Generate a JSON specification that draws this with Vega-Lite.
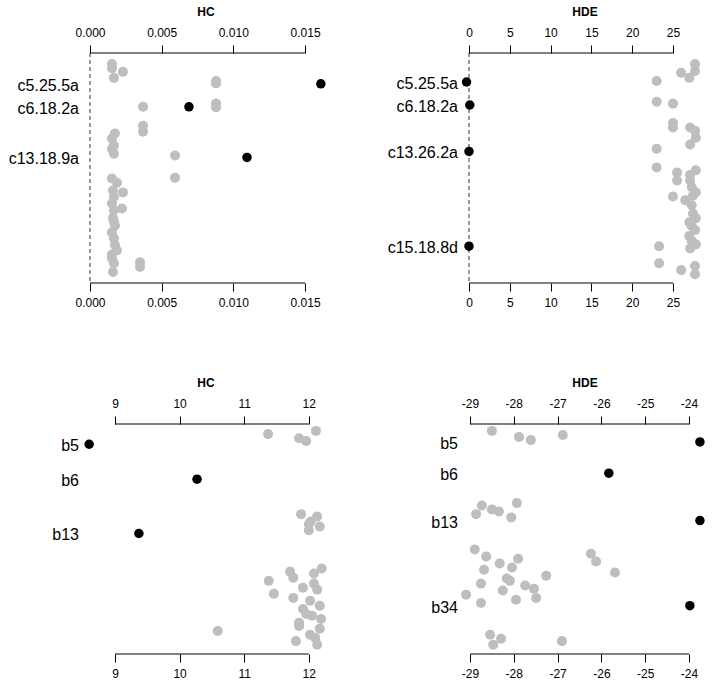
{
  "$schema": "https://vega.github.io/schema/vega-lite/v6.json",
  "background": "white",
  "padding": {"left": 8, "top": 5, "right": 5, "bottom": 5},
  "config": {
    "view": {"stroke": null},
    "axis": {"domain": false, "grid": false, "tickColor": "black", "tickSize": 8, "tickWidth": 1,
      "labelFont": "Liberation Sans", "labelFontSize": 12, "labelColor": "black",
      "titleFont": "Liberation Sans", "titleFontSize": 12, "titleFontWeight": "bold", "titleColor": "black",
      "labelFlush": false, "labelOverlap": false},
    "axisTop": {"labelPadding": 6, "titlePadding": 8},
    "axisBottom": {"labelPadding": 6}
  },
  "datasets": {
    "tl": [
      {"v":0.00153,"p":2.4,"k":0},{"v":0.00153,"p":3.3,"k":0},{"v":0.0023,"p":4.1,"k":0},{"v":0.00167,"p":5.4,"k":0},
      {"v":0.00879,"p":6.1,"k":0},{"v":0.00879,"p":6.6,"k":0},{"v":0.0037,"p":11.7,"k":0},{"v":0.00879,"p":11.0,"k":0},
      {"v":0.00879,"p":11.8,"k":0},{"v":0.0037,"p":15.8,"k":0},{"v":0.0037,"p":17.1,"k":0},{"v":0.00174,"p":17.5,"k":0},
      {"v":0.00153,"p":18.6,"k":0},{"v":0.00167,"p":20.1,"k":0},{"v":0.00153,"p":20.8,"k":0},{"v":0.00167,"p":21.9,"k":0},
      {"v":0.00593,"p":22.3,"k":0},{"v":0.00593,"p":27.1,"k":0},{"v":0.00153,"p":27.3,"k":0},{"v":0.00188,"p":28.2,"k":0},
      {"v":0.0016,"p":29.9,"k":0},{"v":0.0023,"p":30.3,"k":0},{"v":0.00167,"p":31.3,"k":0},{"v":0.00153,"p":32.7,"k":0},
      {"v":0.00223,"p":33.8,"k":0},{"v":0.00167,"p":34.2,"k":0},{"v":0.0016,"p":35.9,"k":0},{"v":0.00167,"p":36.6,"k":0},
      {"v":0.00174,"p":37.5,"k":0},{"v":0.00153,"p":39.0,"k":0},{"v":0.00167,"p":40.3,"k":0},{"v":0.00174,"p":41.8,"k":0},
      {"v":0.00188,"p":42.9,"k":0},{"v":0.00153,"p":43.8,"k":0},{"v":0.00153,"p":44.6,"k":0},{"v":0.00349,"p":45.5,"k":0},
      {"v":0.00349,"p":46.5,"k":0},{"v":0.00167,"p":45.7,"k":0},{"v":0.0016,"p":47.6,"k":0},
      {"v":0.0161,"p":6.7,"k":1,"lab":"c5.25.5a"},{"v":0.0069,"p":11.7,"k":1,"lab":"c6.18.2a"},{"v":0.01095,"p":22.7,"k":1,"lab":"c13.18.9a"}
    ],
    "tr": [
      {"v":27.7,"p":2.4,"k":0},{"v":27.7,"p":3.9,"k":0},{"v":26.0,"p":4.3,"k":0},{"v":27.0,"p":5.4,"k":0},{"v":23.0,"p":6.1,"k":0},
      {"v":23.0,"p":10.6,"k":0},{"v":25.0,"p":11.0,"k":0},{"v":25.0,"p":15.2,"k":0},{"v":25.0,"p":16.2,"k":0},{"v":27.1,"p":16.2,"k":0},
      {"v":27.7,"p":16.9,"k":0},{"v":27.8,"p":18.4,"k":0},{"v":27.1,"p":19.9,"k":0},{"v":23.0,"p":20.8,"k":0},{"v":23.0,"p":24.9,"k":0},
      {"v":25.5,"p":26.0,"k":0},{"v":25.5,"p":27.7,"k":0},{"v":27.8,"p":25.5,"k":0},{"v":27.1,"p":26.5,"k":0},{"v":27.1,"p":27.7,"k":0},
      {"v":27.3,"p":29.2,"k":0},{"v":27.45,"p":31.0,"k":0},{"v":25.0,"p":31.2,"k":0},{"v":26.5,"p":32.0,"k":0},{"v":27.8,"p":30.3,"k":0},
      {"v":27.3,"p":33.1,"k":0},{"v":27.45,"p":34.9,"k":0},{"v":27.8,"p":35.9,"k":0},{"v":27.0,"p":36.8,"k":0},{"v":27.3,"p":37.6,"k":0},
      {"v":27.7,"p":38.5,"k":0},{"v":27.0,"p":39.8,"k":0},{"v":27.3,"p":40.9,"k":0},{"v":27.8,"p":41.6,"k":0},{"v":27.1,"p":42.5,"k":0},
      {"v":23.3,"p":42.0,"k":0},{"v":23.3,"p":45.7,"k":0},{"v":26.0,"p":47.2,"k":0},{"v":27.7,"p":46.3,"k":0},{"v":27.7,"p":48.1,"k":0},
      {"v":-0.3,"p":6.3,"k":1,"lab":"c5.25.5a"},{"v":0.1,"p":11.3,"k":1,"lab":"c6.18.2a"},{"v":0.0,"p":21.4,"k":1,"lab":"c13.26.2a"},{"v":0.0,"p":42.0,"k":1,"lab":"c15.18.8d"}
    ],
    "bl": [
      {"v":11.37,"p":2.2,"k":0},{"v":11.85,"p":3.1,"k":0},{"v":11.96,"p":3.7,"k":0},{"v":12.11,"p":1.5,"k":0},
      {"v":11.88,"p":19.6,"k":0},{"v":12.13,"p":20.1,"k":0},{"v":12.03,"p":21.2,"k":0},{"v":12.0,"p":21.8,"k":0},{"v":12.17,"p":22.3,"k":0},{"v":12.0,"p":23.1,"k":0},
      {"v":12.2,"p":31.4,"k":0},{"v":11.71,"p":32.1,"k":0},{"v":11.76,"p":33.4,"k":0},{"v":12.08,"p":32.5,"k":0},{"v":11.38,"p":34.1,"k":0},
      {"v":12.08,"p":34.7,"k":0},{"v":11.91,"p":35.6,"k":0},{"v":12.13,"p":36.0,"k":0},{"v":11.46,"p":36.9,"k":0},{"v":11.76,"p":37.8,"k":0},
      {"v":12.02,"p":38.4,"k":0},{"v":12.17,"p":39.5,"k":0},{"v":11.91,"p":40.2,"k":0},{"v":11.96,"p":41.3,"k":0},{"v":12.05,"p":41.7,"k":0},
      {"v":12.19,"p":42.4,"k":0},{"v":11.85,"p":43.2,"k":0},{"v":11.85,"p":43.9,"k":0},{"v":12.17,"p":44.5,"k":0},{"v":10.59,"p":45.0,"k":0},
      {"v":12.02,"p":45.8,"k":0},{"v":12.1,"p":46.5,"k":0},{"v":11.8,"p":47.2,"k":0},{"v":12.13,"p":48.0,"k":0},
      {"v":8.60,"p":4.4,"k":1,"lab":"b5"},{"v":10.27,"p":12.0,"k":1,"lab":"b6"},{"v":9.37,"p":23.8,"k":1,"lab":"b13"}
    ],
    "br": [
      {"v":-28.50,"p":1.5,"k":0},{"v":-27.88,"p":2.8,"k":0},{"v":-27.61,"p":3.5,"k":0},{"v":-26.88,"p":2.4,"k":0},
      {"v":-28.73,"p":17.7,"k":0},{"v":-28.50,"p":18.6,"k":0},{"v":-28.34,"p":19.0,"k":0},{"v":-27.93,"p":17.2,"k":0},{"v":-28.86,"p":19.6,"k":0},{"v":-28.06,"p":20.3,"k":0},
      {"v":-28.89,"p":27.3,"k":0},{"v":-28.63,"p":28.8,"k":0},{"v":-27.90,"p":29.3,"k":0},{"v":-28.32,"p":30.3,"k":0},{"v":-28.04,"p":31.2,"k":0},
      {"v":-28.68,"p":31.7,"k":0},{"v":-26.24,"p":28.2,"k":0},{"v":-26.12,"p":29.9,"k":0},{"v":-25.69,"p":32.3,"k":0},{"v":-27.26,"p":33.0,"k":0},
      {"v":-28.16,"p":33.6,"k":0},{"v":-28.09,"p":34.1,"k":0},{"v":-28.75,"p":34.7,"k":0},{"v":-27.74,"p":35.1,"k":0},{"v":-27.54,"p":35.8,"k":0},
      {"v":-28.25,"p":36.2,"k":0},{"v":-29.09,"p":37.1,"k":0},{"v":-27.49,"p":37.8,"k":0},{"v":-27.95,"p":38.2,"k":0},{"v":-28.75,"p":38.9,"k":0},
      {"v":-28.54,"p":45.8,"k":0},{"v":-28.29,"p":46.7,"k":0},{"v":-28.47,"p":48.0,"k":0},{"v":-26.90,"p":47.2,"k":0},
      {"v":-23.75,"p":3.9,"k":1,"lab":"b5"},{"v":-25.83,"p":10.7,"k":1,"lab":"b6"},{"v":-23.75,"p":21.0,"k":1,"lab":"b13"},{"v":-23.98,"p":39.5,"k":1,"lab":"b34"}
    ]
  },
  "columns": 2,
  "spacing": {"row": 141, "column": 140},
  "bounds": "flush",
  "concat": [
    {
      "width": 239, "height": 230,
      "data": {"name": "tl"},
      "resolve": {"axis": {"x": "independent"}},
      "layer": [
        {"data": {"values": [{}]}, "mark": {"type": "rule", "color": "black", "strokeWidth": 1},
         "encoding": {"x": {"datum": 0, "type": "quantitative", "scale": {"domain": [-0.000279, 0.01639], "nice": false, "zero": false}, "axis": null}, "x2": {"datum": 0.015},
           "y": {"datum": 0, "type": "quantitative", "scale": {"domain": [0, 50], "reverse": true, "nice": false, "zero": false}, "axis": null}}},
        {"data": {"values": [{}]}, "mark": {"type": "rule", "color": "black", "strokeWidth": 1},
         "encoding": {"x": {"datum": 0, "type": "quantitative", "axis": null}, "x2": {"datum": 0.015}, "y": {"datum": 50, "type": "quantitative", "axis": null}}},
        {"data": {"values": [{}]}, "mark": {"type": "rule", "color": "#333333", "strokeWidth": 1, "strokeDash": [4, 3]},
         "encoding": {"x": {"datum": 0, "type": "quantitative", "axis": null}, "y": {"datum": 0, "type": "quantitative", "axis": null}, "y2": {"datum": 50}}},
        {"transform": [{"filter": "datum.k == 0"}], "mark": {"type": "point", "filled": true, "color": "#BEBEBE", "opacity": 1, "size": 100},
         "encoding": {"x": {"field": "v", "type": "quantitative", "axis": {"orient": "top", "title": "HC", "values": [0, 0.005, 0.01, 0.015], "format": ".3f"}},
           "y": {"field": "p", "type": "quantitative", "axis": null}}},
        {"transform": [{"filter": "datum.k == 1"}], "mark": {"type": "point", "filled": true, "color": "black", "opacity": 1, "size": 90},
         "encoding": {"x": {"field": "v", "type": "quantitative", "axis": {"orient": "bottom", "title": null, "values": [0, 0.005, 0.01, 0.015], "format": ".3f"}},
           "y": {"field": "p", "type": "quantitative", "axis": null}}},
        {"transform": [{"filter": "datum.k == 1"}], "mark": {"type": "text", "align": "right", "baseline": "middle", "dx": -7, "dy": 2, "fontSize": 16, "font": "Liberation Sans", "color": "black"},
         "encoding": {"x": {"datum": -0.000279, "type": "quantitative", "axis": null}, "y": {"field": "p", "type": "quantitative", "axis": null}, "text": {"field": "lab"}}}
      ]
    },
    {
      "width": 239, "height": 230,
      "data": {"name": "tr"},
      "resolve": {"axis": {"x": "independent"}},
      "layer": [
        {"data": {"values": [{}]}, "mark": {"type": "rule", "color": "black", "strokeWidth": 1},
         "encoding": {"x": {"datum": 0, "type": "quantitative", "scale": {"domain": [-0.49, 28.8], "nice": false, "zero": false}, "axis": null}, "x2": {"datum": 25},
           "y": {"datum": 0, "type": "quantitative", "scale": {"domain": [0, 50], "reverse": true, "nice": false, "zero": false}, "axis": null}}},
        {"data": {"values": [{}]}, "mark": {"type": "rule", "color": "black", "strokeWidth": 1},
         "encoding": {"x": {"datum": 0, "type": "quantitative", "axis": null}, "x2": {"datum": 25}, "y": {"datum": 50, "type": "quantitative", "axis": null}}},
        {"data": {"values": [{}]}, "mark": {"type": "rule", "color": "#333333", "strokeWidth": 1, "strokeDash": [4, 3]},
         "encoding": {"x": {"datum": 0, "type": "quantitative", "axis": null}, "y": {"datum": 0, "type": "quantitative", "axis": null}, "y2": {"datum": 50}}},
        {"transform": [{"filter": "datum.k == 0"}], "mark": {"type": "point", "filled": true, "color": "#BEBEBE", "opacity": 1, "size": 100},
         "encoding": {"x": {"field": "v", "type": "quantitative", "axis": {"orient": "top", "title": "HDE", "values": [0, 5, 10, 15, 20, 25], "labelExpr": "toString(datum.value)"}},
           "y": {"field": "p", "type": "quantitative", "axis": null}}},
        {"transform": [{"filter": "datum.k == 1"}], "mark": {"type": "point", "filled": true, "color": "black", "opacity": 1, "size": 90},
         "encoding": {"x": {"field": "v", "type": "quantitative", "axis": {"orient": "bottom", "title": null, "values": [0, 5, 10, 15, 20, 25], "labelExpr": "toString(datum.value)"}},
           "y": {"field": "p", "type": "quantitative", "axis": null}}},
        {"transform": [{"filter": "datum.k == 1"}], "mark": {"type": "text", "align": "right", "baseline": "middle", "dx": -7, "dy": 2, "fontSize": 16, "font": "Liberation Sans", "color": "black"},
         "encoding": {"x": {"datum": -0.49, "type": "quantitative", "axis": null}, "y": {"field": "p", "type": "quantitative", "axis": null}, "text": {"field": "lab"}}}
      ]
    },
    {
      "width": 239, "height": 230,
      "data": {"name": "bl"},
      "resolve": {"axis": {"x": "independent"}},
      "layer": [
        {"data": {"values": [{}]}, "mark": {"type": "rule", "color": "black", "strokeWidth": 1},
         "encoding": {"x": {"datum": 9, "type": "quantitative", "scale": {"domain": [8.551, 12.251], "nice": false, "zero": false}, "axis": null}, "x2": {"datum": 12},
           "y": {"datum": 0, "type": "quantitative", "scale": {"domain": [0, 50], "reverse": true, "nice": false, "zero": false}, "axis": null}}},
        {"data": {"values": [{}]}, "mark": {"type": "rule", "color": "black", "strokeWidth": 1},
         "encoding": {"x": {"datum": 9, "type": "quantitative", "axis": null}, "x2": {"datum": 12}, "y": {"datum": 50, "type": "quantitative", "axis": null}}},
        {"transform": [{"filter": "datum.k == 0"}], "mark": {"type": "point", "filled": true, "color": "#BEBEBE", "opacity": 1, "size": 100},
         "encoding": {"x": {"field": "v", "type": "quantitative", "axis": {"orient": "top", "title": "HC", "values": [9, 10, 11, 12], "labelExpr": "toString(datum.value)"}},
           "y": {"field": "p", "type": "quantitative", "axis": null}}},
        {"transform": [{"filter": "datum.k == 1"}], "mark": {"type": "point", "filled": true, "color": "black", "opacity": 1, "size": 90},
         "encoding": {"x": {"field": "v", "type": "quantitative", "axis": {"orient": "bottom", "title": null, "values": [9, 10, 11, 12], "labelExpr": "toString(datum.value)"}},
           "y": {"field": "p", "type": "quantitative", "axis": null}}},
        {"transform": [{"filter": "datum.k == 1"}], "mark": {"type": "text", "align": "right", "baseline": "middle", "dx": -7, "dy": 2, "fontSize": 16, "font": "Liberation Sans", "color": "black"},
         "encoding": {"x": {"datum": 8.551, "type": "quantitative", "axis": null}, "y": {"field": "p", "type": "quantitative", "axis": null}, "text": {"field": "lab"}}}
      ]
    },
    {
      "width": 239, "height": 230,
      "data": {"name": "br"},
      "resolve": {"axis": {"x": "independent"}},
      "layer": [
        {"data": {"values": [{}]}, "mark": {"type": "rule", "color": "black", "strokeWidth": 1},
         "encoding": {"x": {"datum": -29, "type": "quantitative", "scale": {"domain": [-29.114, -23.657], "nice": false, "zero": false}, "axis": null}, "x2": {"datum": -24},
           "y": {"datum": 0, "type": "quantitative", "scale": {"domain": [0, 50], "reverse": true, "nice": false, "zero": false}, "axis": null}}},
        {"data": {"values": [{}]}, "mark": {"type": "rule", "color": "black", "strokeWidth": 1},
         "encoding": {"x": {"datum": -29, "type": "quantitative", "axis": null}, "x2": {"datum": -24}, "y": {"datum": 50, "type": "quantitative", "axis": null}}},
        {"transform": [{"filter": "datum.k == 0"}], "mark": {"type": "point", "filled": true, "color": "#BEBEBE", "opacity": 1, "size": 100},
         "encoding": {"x": {"field": "v", "type": "quantitative", "axis": {"orient": "top", "title": "HDE", "values": [-29, -28, -27, -26, -25, -24], "labelExpr": "toString(datum.value)"}},
           "y": {"field": "p", "type": "quantitative", "axis": null}}},
        {"transform": [{"filter": "datum.k == 1"}], "mark": {"type": "point", "filled": true, "color": "black", "opacity": 1, "size": 90},
         "encoding": {"x": {"field": "v", "type": "quantitative", "axis": {"orient": "bottom", "title": null, "values": [-29, -28, -27, -26, -25, -24], "labelExpr": "toString(datum.value)"}},
           "y": {"field": "p", "type": "quantitative", "axis": null}}},
        {"transform": [{"filter": "datum.k == 1"}], "mark": {"type": "text", "align": "right", "baseline": "middle", "dx": -7, "dy": 2, "fontSize": 16, "font": "Liberation Sans", "color": "black"},
         "encoding": {"x": {"datum": -29.114, "type": "quantitative", "axis": null}, "y": {"field": "p", "type": "quantitative", "axis": null}, "text": {"field": "lab"}}}
      ]
    }
  ]
}
